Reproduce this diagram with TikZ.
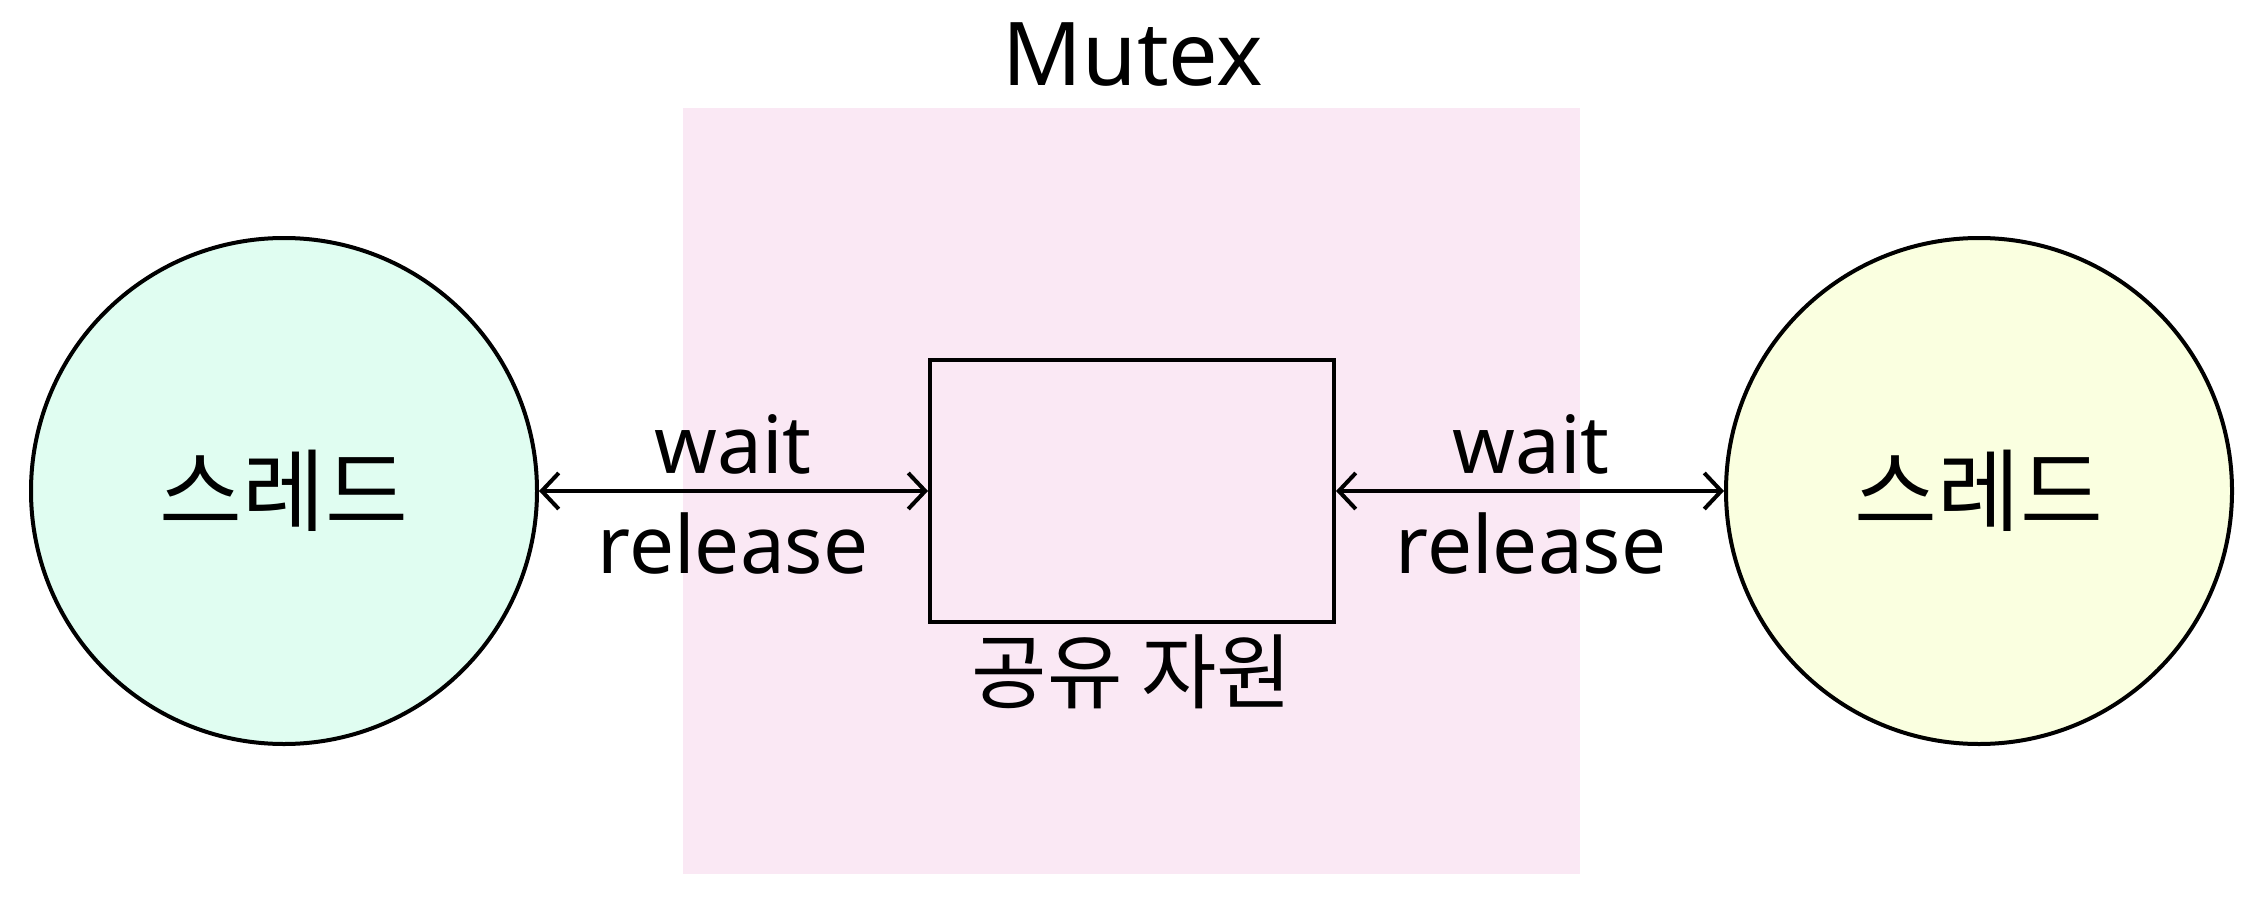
\documentclass[tikz,border=0pt]{standalone}
\usepackage{fontspec}
\setmainfont{Noto Sans}
\newfontfamily\kor{Noto Sans CJK KR}
\usetikzlibrary{arrows.meta}
\definecolor{mint}{HTML}{E0FDF1}
\definecolor{lemon}{HTML}{FAFFE0}
\definecolor{blush}{HTML}{FAE8F4}
\tikzset{
  thread/.style={circle, draw=black, line width=4pt, minimum size=506pt, inner sep=0pt, font=\kor\fontsize{90}{100}\selectfont},
  lbl/.style={font=\fontsize{80}{96}\selectfont, inner sep=0pt},
  conn/.style={line width=4.5pt, {Straight Barb[length=17pt,width=36pt,line width=4pt]}-{Straight Barb[length=17pt,width=36pt,line width=4pt]}},
}
\begin{document}
\begin{tikzpicture}[x=1pt,y=-1pt]
\useasboundingbox (0,0) rectangle (2258,904);
\fill[blush] (683,108) rectangle (1580,874);
\node[lbl, font=\fontsize{88}{100}\selectfont] (mutex) at (1133,55) {Mutex};
\node[thread, fill=mint] (t1) at (284,491) {스레드};
\node[thread, fill=lemon] (t2) at (1979,491) {스레드};
\node[draw=black, line width=4pt, minimum width=404pt, minimum height=262pt, inner sep=0pt] (res) at (1132,491) {};
\node[font=\kor\fontsize{82}{90}\selectfont, inner sep=0pt] (reslbl) at (1132,672) {공유 자원};
\draw[conn] (t1) -- (res);
\draw[conn] (res) -- (t2);
\node[lbl] (w1) at (733,444) {wait};
\node[lbl] (r1) at (733,543) {release};
\node[lbl] (w2) at (1531,444) {wait};
\node[lbl] (r2) at (1531,543) {release};
\end{tikzpicture}
\end{document}
